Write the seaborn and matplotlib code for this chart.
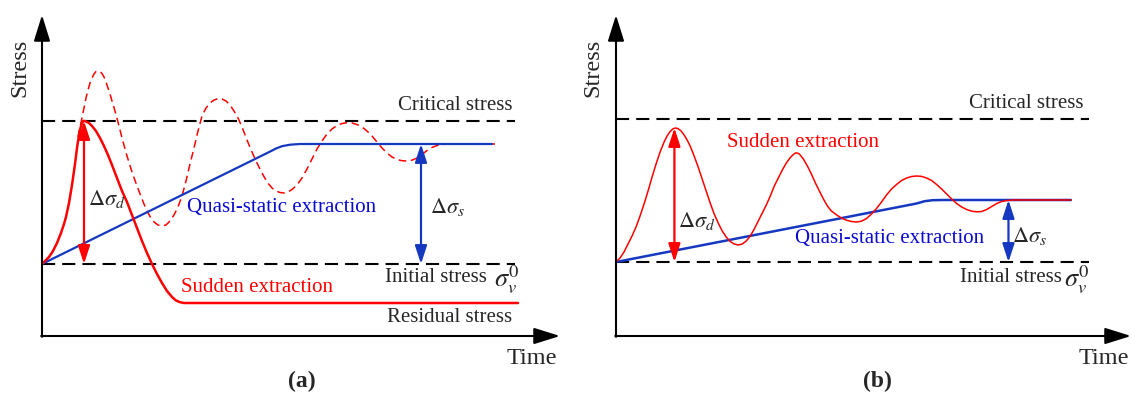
import matplotlib
matplotlib.use("Agg")
import matplotlib.pyplot as plt
import seaborn as sns
import pandas as pd

sns.set_theme(style="white")
plt.rcParams["font.family"] = ["Liberation Serif", "DejaVu Serif"]
plt.rcParams["mathtext.fontset"] = "stix"

RED = "#ff0000"
BLUE_LINE = "#1538c0"
BLUE_TEXT = "#0a0ad0"

# ---------------- data: panel (a) ----------------
a_levels = {"critical": 215, "initial": 72, "plateau": 192, "residual": 33}
a_sudden_t = [0, 4, 7, 11, 15, 19, 22, 24, 27, 30, 33, 35, 37, 38.5, 40, 41.5,
              43, 45, 47, 50, 54, 58, 62, 66, 70, 75, 80, 85, 90, 95, 100, 105,
              110, 115, 120, 125, 130, 134, 138, 142, 476]
a_sudden_s = [72, 76, 79, 85, 93, 103, 112, 119, 133, 151, 172, 188, 201, 208,
              213, 215, 215, 214, 213, 210, 205, 198, 190, 181, 171, 158, 145,
              134, 121, 108, 95, 83, 72, 62, 53, 45, 39, 35.5, 33.8, 33, 33]
a_dyn_t = [36, 38, 40, 42, 44, 46, 48, 50, 52, 54, 56, 58, 60, 62, 64, 66, 68,
           70, 73, 76, 80, 85, 90, 95, 100, 104, 108, 112, 116, 120, 124, 128,
           132, 136, 140, 144, 148, 152, 156, 160, 164, 168, 172, 176, 180,
           184, 188, 192, 196, 200, 205, 210, 215, 220, 225, 230, 234, 238,
           242, 246, 250, 255, 260, 265, 270, 275, 280, 285, 290, 295, 300,
           305, 310, 315, 320, 325, 330, 335, 340, 345, 350, 355, 360, 365,
           370, 375, 380, 385, 390, 395, 400, 408, 453]
a_dyn_s = [199, 209, 218, 228, 238, 246, 253, 258, 262, 264.5, 265, 264.5,
           262.5, 259, 254, 248, 242, 235, 225, 214, 198, 180, 164, 150, 137,
           127, 119.5, 114, 111, 110, 111, 115, 121, 129, 140, 155, 172, 188,
           205, 220, 228, 233, 236, 237.3, 237, 235, 231, 225, 218, 209, 196,
           184, 173, 163, 154, 148, 145, 143.5, 143, 144, 146.5, 151, 158,
           167, 177, 187, 195, 202, 207, 210.5, 212.5, 213.3, 213, 211.5, 209,
           205, 200, 194, 188, 183, 179, 176.5, 175.3, 175, 175.8, 178, 181.5,
           185.5, 188.5, 190.5, 191.5, 192, 192]
a_quasi_t = [0, 228, 234, 240, 248, 258, 450]
a_quasi_s = [72, 184.4, 187.5, 189.8, 191.3, 192, 192]

# ---------------- data: panel (b) ----------------
b_levels = {"critical": 217, "initial": 74, "plateau": 136}
b_sudden_t = [0, 4, 8, 12, 16, 20, 24, 28, 32, 36, 40, 44, 48, 51, 54, 57,
              59.5, 62, 65, 68, 71, 74, 78, 82, 86, 90, 94, 98, 102, 106, 110,
              114, 118, 122, 126, 130, 134, 138, 142, 146, 150, 154, 158, 162,
              166, 170, 174, 177, 179, 181, 183, 187, 191, 195, 199, 203, 207,
              211, 215, 221, 226, 230, 235, 240, 245, 250, 255, 260, 265, 270,
              275, 280, 285, 290, 295, 300, 305, 310, 315, 320, 325, 330, 335,
              340, 345, 350, 355, 360, 365, 370, 375, 380, 385, 390, 397, 454]
b_sudden_s = [74, 78, 84, 92, 100, 109, 120, 132, 145, 159, 172, 184, 194,
              200, 204.5, 207.3, 208, 207.3, 205, 201, 196, 190, 180, 169, 157,
              145, 133, 122, 113, 105, 99, 94.5, 92, 91, 92, 95, 100, 107, 115,
              123, 131, 140, 150, 158, 166, 173, 178.5, 181.5, 183, 183, 182,
              177, 170, 162, 153, 145, 137, 130, 125, 120.5, 117.5, 115.8,
              114.5, 114, 114.8, 117.5, 122, 127.5, 134, 141, 147, 151.5, 155.5,
              158, 159.5, 160, 159.6, 158, 155.5, 151.5, 147, 142, 137, 132.5,
              129, 126.5, 124.8, 124.2, 124.5, 126.5, 129.5, 132.5, 134.5,
              135.5, 136, 136]
b_quasi_t = [0, 300, 308, 316, 326, 454]
b_quasi_s = [74, 132.5, 134.8, 135.8, 136, 136]

LW_AX = 1.5
TXT = 15


def draw_axes(ax, w, h):
    ax.set_xlim(0, w)
    ax.set_ylim(0, h)
    ax.axis("off")
    kw = dict(arrowstyle="-|>,head_length=1.6,head_width=0.5", color="black",
              lw=LW_AX, shrinkA=0, shrinkB=0, mutation_scale=10)
    ax.annotate("", xy=(w, 0), xytext=(-0.8, 0), arrowprops=kw, annotation_clip=False)
    ax.annotate("", xy=(0, h), xytext=(0, -0.8), arrowprops=kw, annotation_clip=False)


def hdash(ax, level, x1):
    d = pd.DataFrame({"t": [0, x1], "s": [level, level]})
    sns.lineplot(data=d, x="t", y="s", ax=ax, color="black", lw=1.5,
                 linestyle=(0, (6.3, 3.4)), sort=False, estimator=None)


def curve(ax, t, s, color, lw, ls="-"):
    d = pd.DataFrame({"t": t, "s": s})
    sns.lineplot(data=d, x="t", y="s", ax=ax, color=color, lw=lw, linestyle=ls,
                 sort=False, estimator=None, solid_joinstyle="round",
                 solid_capstyle="round", dash_joinstyle="round")


def darrow(ax, x, y0, y1, color):
    ax.annotate("", xy=(x, y1), xytext=(x, y0),
                arrowprops=dict(arrowstyle="<|-|>,head_length=1.1,head_width=0.36",
                                color=color, lw=1.6, shrinkA=0, shrinkB=0,
                                mutation_scale=10), annotation_clip=False)


fig = plt.figure(figsize=(11.31, 3.96), dpi=100)

# ---------------- panel (a) ----------------
axA = fig.add_axes([42 / 1131, 60 / 396, 518 / 1131, 321 / 396])
draw_axes(axA, 518, 321)
hdash(axA, a_levels["critical"], 473)
hdash(axA, a_levels["initial"], 473)
curve(axA, a_dyn_t, a_dyn_s, RED, 1.1, (0, (5, 3)))
curve(axA, a_quasi_t, a_quasi_s, BLUE_LINE, 1.6)
curve(axA, a_sudden_t, a_sudden_s, RED, 1.8)
darrow(axA, 42, a_levels["initial"], a_levels["critical"], RED)
darrow(axA, 379, a_levels["initial"], a_levels["plateau"], BLUE_LINE)

axA.text(470, 231, "Critical stress", ha="right", va="center", fontsize=TXT)
axA.text(445, 59, "Initial stress", ha="right", va="center", fontsize=TXT)
axA.text(452, 56, r"$\sigma_v^0$", ha="left", va="center", fontsize=19)
axA.text(470, 18, "Residual stress", ha="right", va="center", fontsize=TXT)
axA.text(139, 48, "Sudden extraction", ha="left", va="center", fontsize=TXT, color=RED)
axA.text(145, 129, "Quasi-static extraction", ha="left", va="center", fontsize=TXT,
         color=BLUE_TEXT)
axA.text(46, 137, r"$\Delta\sigma_d$", ha="left", va="center", fontsize=16)
axA.text(388, 129, r"$\Delta\sigma_s$", ha="left", va="center", fontsize=16)
axA.text(-22, 268, "Stress", ha="center", va="center", rotation=90, fontsize=17.5)
axA.text(515, -22, "Time", ha="right", va="center", fontsize=17.5)
axA.text(260, -45, "(a)", ha="center", va="center", fontsize=17, fontweight="bold")

# ---------------- panel (b) ----------------
axB = fig.add_axes([616 / 1131, 60 / 396, 515 / 1131, 321 / 396])
draw_axes(axB, 514, 321)
hdash(axB, b_levels["critical"], 472)
hdash(axB, b_levels["initial"], 472)
curve(axB, b_quasi_t, b_quasi_s, BLUE_LINE, 1.8)
curve(axB, b_sudden_t, b_sudden_s, RED, 1.1)
darrow(axB, 58.3, b_levels["initial"], 208, RED)
darrow(axB, 391.7, b_levels["initial"], b_levels["plateau"], BLUE_LINE)

axB.text(467, 233, "Critical stress", ha="right", va="center", fontsize=TXT)
axB.text(445, 59, "Initial stress", ha="right", va="center", fontsize=TXT)
axB.text(447, 56, r"$\sigma_v^0$", ha="left", va="center", fontsize=19)
axB.text(111, 194, "Sudden extraction", ha="left", va="center", fontsize=TXT, color=RED)
axB.text(179, 98, "Quasi-static extraction", ha="left", va="center", fontsize=TXT,
         color=BLUE_TEXT)
axB.text(62, 115, r"$\Delta\sigma_d$", ha="left", va="center", fontsize=16)
axB.text(395, 100, r"$\Delta\sigma_s$", ha="left", va="center", fontsize=16)
axB.text(-23, 268, "Stress", ha="center", va="center", rotation=90, fontsize=17.5)
axB.text(512, -22, "Time", ha="right", va="center", fontsize=17.5)
axB.text(261, -45, "(b)", ha="center", va="center", fontsize=17, fontweight="bold")

fig.savefig("out.png", dpi=100, facecolor="white")
